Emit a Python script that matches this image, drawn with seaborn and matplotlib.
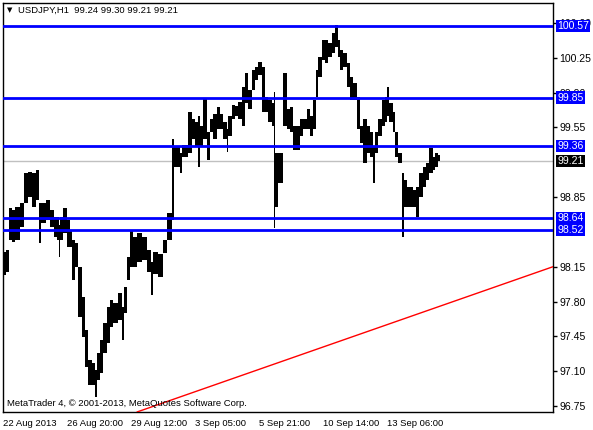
import numpy as np
import pandas as pd
import matplotlib
matplotlib.use("Agg")
import matplotlib.pyplot as plt
import matplotlib.transforms as mtransforms
import seaborn as sns

sns.set_theme(style="white")
plt.rcParams['font.family'] = ['Liberation Sans', 'DejaVu Sans']

# ---------------- data ----------------
symbol_title = "USDJPY,H1  99.24 99.30 99.21 99.21"
copyright_text = "MetaTrader 4, \u00a9 2001-2013, MetaQuotes Software Corp."

# hourly bars grouped into short segments: start hour, high, low
seg_hour = [0, 3, 6, 9, 12, 17, 21, 25, 29, 33,
            36, 38, 43, 47, 51, 54, 56, 57, 60, 64,
            67, 69, 72, 75, 79, 82, 85, 89, 92, 94,
            97, 100, 104, 107, 110, 115, 119, 121, 124, 127,
            130, 134, 139, 144, 148, 150, 155, 160, 164, 169,
            171, 177, 179, 185, 189, 192, 195, 197, 200, 204,
            207, 210, 214, 217, 220, 224, 225, 229, 232, 235,
            239, 242, 245, 249, 252, 255, 259, 262, 265, 269,
            271, 272, 275, 280, 284, 287, 290, 297, 300, 304,
            307, 310, 313, 315, 319, 322, 325, 329, 332, 335,
            337, 340, 344, 347, 350, 354, 357, 360, 364, 367,
            370, 372, 375, 379, 382, 384, 386, 390, 392, 395,
            399, 401, 404, 410, 413, 416, 420, 423, 426, 430,
            432, 435]
seg_end = 437
seg_high = [98.30, 98.32, 98.74, 98.72, 98.75, 98.79, 99.09, 99.10, 99.09, 99.12,
            98.79, 98.79, 98.82, 98.72, 98.65, 98.65, 98.57, 98.65, 98.74, 98.62,
            98.52, 98.42, 98.39, 98.15, 97.85, 97.51, 97.21, 97.18, 97.11, 97.28,
            97.41, 97.58, 97.75, 97.82, 97.79, 97.89, 97.75, 97.95, 98.25, 98.52,
            98.45, 98.49, 98.45, 98.32, 98.20, 98.30, 98.28, 98.42, 98.69, 99.43,
            99.35, 99.29, 99.37, 99.70, 99.63, 99.60, 99.66, 99.56, 99.85, 99.50,
            99.63, 99.68, 99.75, 99.68, 99.60, 99.53, 99.66, 99.78, 99.76, 99.81,
            99.96, 100.10, 99.93, 100.13, 100.16, 100.21, 100.16, 99.86, 99.83, 99.80,
            99.91, 99.29, 99.29, 100.10, 99.73, 99.75, 99.56, 99.63, 99.63, 99.73,
            99.66, 99.83, 100.13, 100.26, 100.43, 100.43, 100.40, 100.50, 100.58, 100.43,
            100.33, 100.30, 100.20, 100.06, 100.00, 99.86, 99.56, 99.63, 99.56, 99.50,
            99.35, 99.50, 99.63, 99.83, 99.86, 99.96, 99.80, 99.70, 99.50, 99.29,
            99.09, 99.02, 98.95, 98.92, 98.95, 99.09, 99.15, 99.19, 99.34, 99.25,
            99.29, 99.27]
seg_low = [98.07, 98.10, 98.42, 98.40, 98.42, 98.55, 98.79, 98.85, 98.75, 98.82,
           98.39, 98.59, 98.62, 98.55, 98.45, 98.42, 98.25, 98.42, 98.49, 98.35,
           98.35, 98.02, 98.15, 97.64, 97.44, 97.14, 96.96, 96.96, 96.84, 97.01,
           97.08, 97.28, 97.38, 97.54, 97.58, 97.61, 97.41, 97.68, 98.02, 98.15,
           98.15, 98.20, 98.22, 98.10, 97.87, 98.08, 98.05, 98.29, 98.42, 98.62,
           99.15, 99.09, 99.25, 99.29, 99.43, 99.35, 99.15, 99.35, 99.43, 99.22,
           99.50, 99.43, 99.53, 99.53, 99.43, 99.30, 99.46, 99.63, 99.66, 99.63,
           99.56, 99.80, 99.73, 99.93, 100.03, 100.08, 99.70, 99.70, 99.60, 99.56,
           98.54, 98.75, 98.99, 99.56, 99.53, 99.50, 99.32, 99.46, 99.53, 99.53,
           99.46, 99.53, 99.86, 100.06, 100.23, 100.20, 100.26, 100.30, 100.36, 100.26,
           100.13, 100.16, 99.96, 99.83, 99.83, 99.53, 99.39, 99.19, 99.29, 99.25,
           98.99, 99.29, 99.46, 99.56, 99.60, 99.66, 99.60, 99.50, 99.25, 99.19,
           98.45, 98.75, 98.75, 98.75, 98.65, 98.85, 98.95, 99.02, 99.09, 99.12,
           99.15, 99.21]

level_values = [100.57, 99.85, 99.36, 98.64, 98.52]
last_price = 99.21
trend_hours = [134, 550]
trend_prices = [96.69, 98.15]

date_tick_hours = [0, 64, 128, 192, 256, 320, 384]
date_tick_labels = ["22 Aug 2013", "26 Aug 20:00", "29 Aug 12:00", "3 Sep 05:00",
                    "5 Sep 21:00", "10 Sep 14:00", "13 Sep 06:00"]
price_ticks = [96.75, 97.10, 97.45, 97.80, 98.15, 98.85,
               99.55, 99.90, 100.25, 100.60]

FS_PRICE = 7.6
FS_TEXT = 6.8

# ---------------- figure ----------------
W, H = 593, 430
fig = plt.figure(figsize=(W / 100, H / 100), dpi=100)
fig.patch.set_facecolor("white")
ax = fig.add_axes([3 / W, 18 / H, 550 / W, 409 / H])
ax.set_facecolor("white")

bars = pd.DataFrame({"hour": seg_hour, "high": seg_high, "low": seg_low})
bars["width"] = np.diff(np.append(bars["hour"].values, seg_end))

ax.bar(bars["hour"], bars["high"] - bars["low"], bottom=bars["low"],
       width=bars["width"], align="edge", color="black", linewidth=0, zorder=2)

# current price line
ax.axhline(last_price, color="#c0c0c0", lw=1, zorder=1)

# horizontal levels
for v in level_values:
    ax.axhline(v, color="#0000ff", lw=2, zorder=3)

# trend line
trend = pd.DataFrame({"hour": trend_hours, "price": trend_prices})
sns.lineplot(data=trend, x="hour", y="price", ax=ax, color="#ff0000", lw=1, zorder=4)

ax.set_xlim(0, 550)
ax.set_ylim(96.69, 100.80)
ax.set_xlabel("")
ax.set_ylabel("")

# axes styling
for s in ax.spines.values():
    s.set_color("black")
    s.set_linewidth(1)
    s.set_visible(True)

ax.yaxis.tick_right()
ax.set_yticks(price_ticks)
ax.set_yticklabels([f"{p:.2f}" for p in price_ticks])
ax.set_xticks(date_tick_hours)
ax.set_xticklabels(date_tick_labels, ha="left")
ax.tick_params(axis="both", direction="out", length=3, width=1, colors="black", pad=1.5)
ax.tick_params(axis="y", labelsize=FS_PRICE)
ax.tick_params(axis="x", labelsize=FS_TEXT, pad=2)

# right-hand level labels
trans = mtransforms.blended_transform_factory(ax.transAxes, ax.transData)
for v in level_values:
    ax.text(1.0075, v, f"{v:.2f}", transform=trans, ha="left", va="center",
            fontsize=FS_PRICE, color="white", clip_on=False, zorder=10,
            bbox=dict(facecolor="#0000ff", edgecolor="none",
                      boxstyle="square,pad=0.1"))
ax.text(1.0075, last_price, f"{last_price:.2f}", transform=trans, ha="left",
        va="center", fontsize=FS_PRICE, color="white", clip_on=False, zorder=10,
        bbox=dict(facecolor="black", edgecolor="none", boxstyle="square,pad=0.1"))

# title and footer
fig.text(7 / W, 1 - 10.5 / H, "\u25bc", fontsize=5, color="black", va="center",
         ha="left", family="DejaVu Sans")
fig.text(18 / W, 1 - 10.5 / H, symbol_title, fontsize=FS_TEXT, color="black",
         va="center", ha="left")
ax.text(4, 96.69 + (412 - 404) / 99.4, copyright_text, fontsize=FS_TEXT, color="black",
        va="center", ha="left", zorder=6)

fig.savefig("out.png", dpi=100, facecolor="white")
